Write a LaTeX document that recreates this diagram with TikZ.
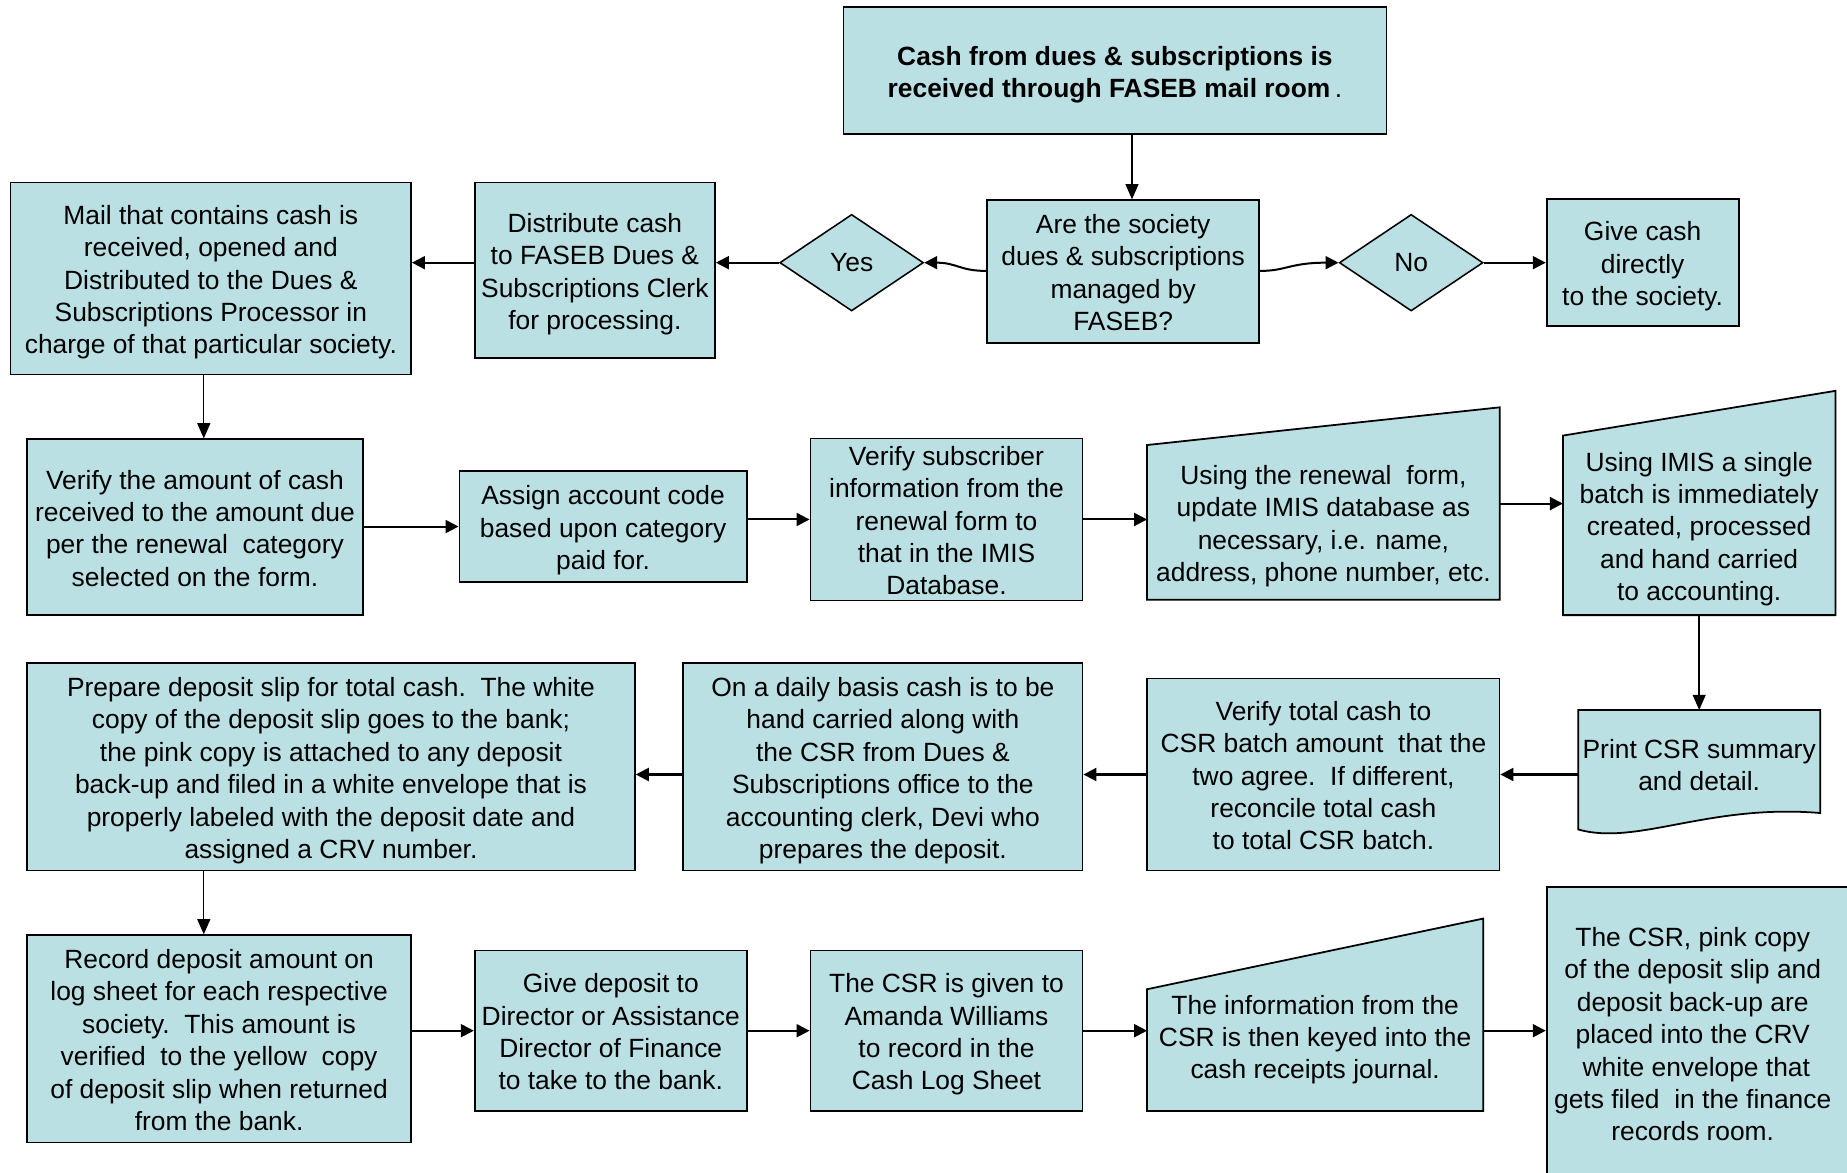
\documentclass[tikz,border=0pt]{standalone}
\usepackage{fontspec}
\setmainfont{Liberation Sans}
\usetikzlibrary{arrows.meta,shapes.geometric}
\definecolor{boxfill}{RGB}{186,224,227}
\newcommand{\fsz}{\fontsize{22.4}{27.5}\selectfont}
\newcommand{\T}[1]{\rule{0pt}{22.75pt}#1\rule[-4.75pt]{0pt}{4.75pt}}
\tikzset{
  box/.style={draw, line width=1.5pt, fill=boxfill, align=center, inner sep=0pt, font=\fsz},
  txt/.style={align=center, inner sep=0pt, font=\fsz},
  shp/.style={draw, line width=1.5pt, fill=boxfill},
  dia/.style={draw, line width=1.3pt, fill=boxfill, shape=diamond, inner sep=0pt, minimum width=122pt, minimum height=82pt, font=\fsz},
  arr/.style={-{Triangle[length=11pt,width=11pt]}, line width=1.7pt},
  varr/.style={-{Triangle[length=13pt,width=11pt]}, line width=1.2pt}
}
\begin{document}
\begin{tikzpicture}[x=1pt,y=-1pt]
\clip (0,0) rectangle (1568,995);
\fill[white] (0,0) rectangle (1568,995);

% Row 1
\node[box, minimum width=461, minimum height=108] (top) at (946.5,60) {\T{\bfseries Cash from dues \& subscriptions is\\\bfseries received through FASEB mail room\,{\mdseries.}}};
\node[box, minimum width=231, minimum height=121] (dec) at (953.5,230.5) {\T{Are the society\\dues \& subscriptions\\managed by\\FASEB?}};
\node[dia] (yes) at (723,223) {Yes};
\node[dia] (no) at (1198,223) {No};
\node[box, minimum width=163, minimum height=108] (give) at (1394.5,223) {\T{Give cash\\directly\\to the society.}};
\node[box, minimum width=204, minimum height=149] (dist) at (505,229.5) {\T{Distribute cash\\to FASEB Dues \&\\Subscriptions Clerk\\for processing.}};
\node[box, minimum width=340, minimum height=163] (mail) at (179,236.5) {\T{Mail that contains cash is\\received, opened and\\Distributed to the Dues \&\\Subscriptions Processor in\\charge of that particular society.}};

% Row 2
\node[box, minimum width=285, minimum height=149] (va) at (165.5,447.5) {\T{Verify the amount of cash\\received to the amount due\\per the renewal\ \ category\\selected on the form.}};
\node[box, minimum width=244, minimum height=94] (asg) at (512,447) {\T{Assign account code\\based upon category\\paid for.}};
\node[box, minimum width=231, minimum height=136] (vs) at (803.5,441) {\T{Verify subscriber\\information from the\\renewal form to\\that in the IMIS\\Database.}};
\node[txt, minimum width=299, minimum height=131] (ren) at (1123.5,443.5) {};
\draw[shp] (ren.south west) -- (ren.south east) -- ([yshift=32]ren.north east) -- (ren.north west) -- cycle;
\node[txt] (rentext) at (ren.center) {\T{Using the renewal\ \ form,\\update IMIS database as\\necessary, i.e. name,\\address, phone number, etc.}};
\node[txt, minimum width=231, minimum height=152] (imis) at (1442.5,446) {};
\draw[shp] (imis.south west) -- (imis.south east) -- ([yshift=38]imis.north east) -- (imis.north west) -- cycle;
\node[txt] (imistext) at (imis.center) {\T{Using IMIS a single\\batch is immediately\\created, processed\\and hand carried\\to accounting.}};

% Row 3
\node[txt, minimum width=205, minimum height=91] (prt) at (1442.5,648.5) {};
\draw[shp] (prt.north west) -- ([yshift=-10]prt.south west)
  .. controls ([xshift=50,yshift=-24]prt.south west) and ([xshift=-95,yshift=12]prt.south east) .. ([yshift=4]prt.south east)
  -- (prt.north east) -- cycle;
\node[txt] (prttext) at (prt.center) {\T{Print CSR summary\\and detail.}};
\node[box, minimum width=299, minimum height=163] (vt) at (1123.5,657.5) {\T{Verify total cash to\\CSR batch amount\ \ that the\\two agree.\ \ If different,\\reconcile total cash\\to total CSR batch.}};
\node[box, minimum width=339, minimum height=176] (daily) at (749.5,651) {\T{On a daily basis cash is to be\\hand carried along with\\the CSR from Dues \&\\Subscriptions office to the\\accounting clerk, Devi who\\prepares the deposit.}};
\node[box, minimum width=516, minimum height=176] (prep) at (281,651) {\T{Prepare deposit slip for total cash.\ \ The white\\copy of the deposit slip goes to the bank;\\the pink copy is attached to any deposit\\back-up and filed in a white envelope that is\\properly labeled with the deposit date and\\assigned a CRV number.}};

% Row 4
\node[box, minimum width=326, minimum height=176] (rec) at (186,882) {\T{Record deposit amount on\\log sheet for each respective\\society.\ \ This amount is\\verified\ \ to the yellow\ \ copy\\of deposit slip when returned\\from the bank.}};
\node[box, minimum width=231, minimum height=136] (gd) at (518.5,875) {\T{Give deposit to\\Director or Assistance\\Director of Finance\\to take to the bank.}};
\node[box, minimum width=231, minimum height=136] (csr) at (803.5,875) {\T{The CSR is given to\\Amanda Williams\\to record in the\\Cash Log Sheet}};
\node[txt, minimum width=285, minimum height=127] (info) at (1116.5,879.5) {};
\draw[shp] (info.south west) -- (info.south east) -- ([yshift=36]info.north east) -- ([yshift=-24]info.north west) -- cycle;
\node[txt] (infotext) at (info.center) {\T{The information from the\\CSR is then keyed into the\\cash receipts journal.}};
\node[box, minimum width=290, minimum height=260] (pink) at (1458,883) {};
\node[txt] (pinktext) at (1437,877) {\T{The CSR, pink copy\\of the deposit slip and\\deposit back-up are\\placed into the CRV\\\ white envelope that\\gets filed\ \ in the finance\\records room.}};

% Connectors row 1
\draw[varr] (top.south -| 961,0) -- (dec.north -| 961,0);
\draw[arr] (dec.west |- 0,230) .. controls (815,230) and (812,223) .. (yes.east);
\draw[arr] (dec.east |- 0,230) .. controls (1092,230) and (1095,223) .. (no.west);
\draw[arr] (yes.west) -- (yes.west -| dist.east);
\draw[arr] (dist.west |- yes.west) -- (mail.east |- yes.west);
\draw[arr] (no.east) -- (no.east -| give.west);
\draw[varr] ([xshift=-6]mail.south) -- ([xshift=-6]mail.south |- va.north);

% Connectors row 2
\draw[arr] (va.east |- asg.west) -- (asg.west);
\draw[arr] (asg.east |- vs.west) -- (vs.west);
\draw[arr] (vs.east) -- (vs.east -| ren.west);
\draw[arr] ([yshift=16]ren.east) -- ([yshift=16]ren.east -| imis.west);
\draw[varr] (imis.south) -- (prt.north);

% Connectors row 3
\draw[arr] (prt.west |- vt.east) -- (vt.east);
\draw[arr] (vt.west) -- (vt.west -| daily.east);
\draw[arr] (daily.west |- vt.west) -- (prep.east |- vt.west);
\draw[varr] ([xshift=-108]prep.south) -- ([xshift=-108]prep.south |- rec.north);

% Connectors row 4
\draw[arr] (rec.east |- gd.west) -- (gd.west);
\draw[arr] (gd.east) -- (csr.west);
\draw[arr] (csr.east) -- (csr.east -| info.west);
\draw[arr] (info.east |- csr.east) -- (pink.west |- csr.east);
\end{tikzpicture}
\end{document}
